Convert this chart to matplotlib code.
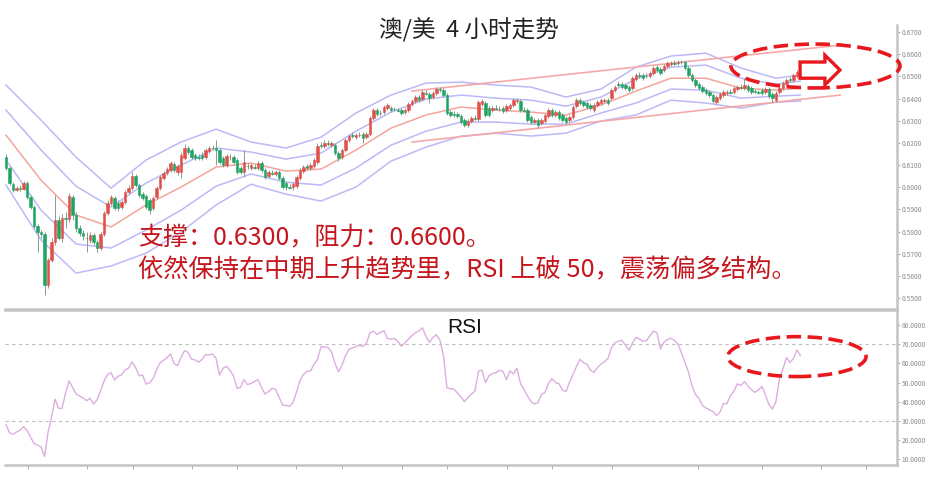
import numpy as np
import matplotlib.pyplot as plt
import matplotlib.patches as mpatches
from matplotlib.ticker import FormatStrFormatter

plt.rcParams['font.family'] = ['Noto Sans CJK SC', 'DejaVu Sans']

# AUD/USD 4h candles
opens = [
    .6136, .6087, .6014, .5987, .5996, .5992, .6019, .5956, .5911, .5825,
    .5798, .5789, .5559, .5672, .5753, .5852, .5771, .5861, .5857, .5956,
    .5875, .5816, .5794, .5773, .5762, .5785, .5753, .5726, .5789, .5884,
    .5929, .5951, .5929, .5911, .5933, .5978, .5996, .6051, .6010, .5969,
    .5960, .5942, .5906, .5956, .5996, .6041, .6064, .6078, .6105, .6069,
    .6069, .6132, .6177, .6168, .6145, .6136, .6145, .6136, .6163, .6177,
    .6177, .6168, .6132, .6100, .6136, .6136, .6123, .6087, .6069, .6096,
    .6087, .6091, .6087, .6109, .6078, .6051, .6064, .6060, .6069, .6041,
    .6019, .6001, .6001, .6005, .6041, .6073, .6096, .6087, .6096, .6114,
    .6190, .6186, .6199, .6190, .6190, .6154, .6136, .6168, .6213, .6235,
    .6226, .6235, .6240, .6226, .6240, .6312, .6348, .6335, .6339, .6357,
    .6357, .6353, .6348, .6348, .6339, .6348, .6375, .6389, .6407, .6398,
    .6425, .6420, .6407, .6425, .6443, .6438, .6416, .6339, .6330, .6330,
    .6321, .6303, .6281, .6299, .6312, .6308, .6375, .6380, .6357, .6348,
    .6357, .6353, .6357, .6348, .6357, .6371, .6389, .6389, .6348, .6348,
    .6317, .6294, .6303, .6290, .6299, .6321, .6348, .6326, .6339, .6326,
    .6312, .6303, .6317, .6366, .6393, .6384, .6380, .6371, .6348, .6371,
    .6380, .6389, .6393, .6402, .6438, .6465, .6465, .6461, .6452, .6447,
    .6488, .6506, .6506, .6502, .6502, .6515, .6542, .6533, .6529, .6547,
    .6556, .6560, .6560, .6565, .6565, .6538, .6506, .6483, .6465, .6452,
    .6438, .6429, .6416, .6384, .6402, .6416, .6425, .6429, .6429, .6443,
    .6452, .6447, .6456, .6447, .6434, .6429, .6438, .6429, .6443, .6420,
    .6393, .6429, .6447, .6465, .6488, .6483, .6502, .6538,
]
closes = [
    .6087, .6019, .5987, .5996, .5992, .6019, .5956, .5911, .5825, .5798,
    .5789, .5559, .5672, .5753, .5852, .5771, .5861, .5857, .5960, .5875,
    .5816, .5794, .5780, .5771, .5785, .5753, .5726, .5789, .5884, .5929,
    .5956, .5906, .5906, .5933, .5978, .5996, .6051, .6010, .5965, .5951,
    .5911, .5897, .5951, .5996, .6046, .6064, .6082, .6109, .6078, .6096,
    .6145, .6177, .6159, .6136, .6132, .6134, .6132, .6168, .6177, .6175,
    .6168, .6114, .6100, .6141, .6138, .6114, .6069, .6069, .6114, .6094,
    .6100, .6089, .6109, .6078, .6046, .6069, .6062, .6069, .6041, .6001,
    .6001, .5999, .6014, .6046, .6078, .6091, .6087, .6100, .6123, .6186,
    .6188, .6199, .6197, .6199, .6154, .6132, .6168, .6213, .6231, .6233,
    .6235, .6237, .6222, .6240, .6312, .6348, .6330, .6333, .6362, .6371,
    .6348, .6351, .6346, .6335, .6348, .6375, .6389, .6407, .6393, .6429,
    .6423, .6402, .6425, .6443, .6438, .6416, .6335, .6326, .6328, .6321,
    .6294, .6281, .6299, .6312, .6310, .6384, .6389, .6326, .6326, .6357,
    .6355, .6351, .6344, .6366, .6371, .6393, .6393, .6348, .6346, .6303,
    .6294, .6303, .6281, .6303, .6326, .6348, .6326, .6339, .6312, .6303,
    .6294, .6317, .6362, .6393, .6380, .6371, .6362, .6357, .6371, .6384,
    .6393, .6393, .6380, .6438, .6452, .6463, .6452, .6447, .6438, .6492,
    .6506, .6504, .6492, .6500, .6515, .6538, .6529, .6515, .6547, .6560,
    .6560, .6558, .6565, .6563, .6538, .6506, .6483, .6461, .6447, .6434,
    .6425, .6416, .6389, .6407, .6420, .6429, .6429, .6427, .6447, .6452,
    .6450, .6461, .6438, .6429, .6432, .6427, .6425, .6443, .6411, .6402,
    .6425, .6447, .6470, .6483, .6483, .6506, .6520, .6515,
]
highs = [
    .6150, .6096, .6023, .6005, .6010, .6028, .6028, .5965, .5920, .5834,
    .5807, .5798, .5681, .5771, .5965, .5870, .5879, .5888, .5974, .5965,
    .5888, .5830, .5807, .5798, .5798, .5794, .5762, .5798, .5893, .5942,
    .5965, .5960, .5942, .5942, .5987, .6010, .6069, .6060, .6019, .5978,
    .5969, .5951, .5960, .6005, .6055, .6073, .6091, .6118, .6114, .6105,
    .6159, .6195, .6186, .6177, .6154, .6150, .6159, .6177, .6186, .6190,
    .6213, .6177, .6141, .6150, .6150, .6145, .6132, .6096, .6168, .6109,
    .6109, .6105, .6118, .6118, .6087, .6078, .6078, .6078, .6078, .6051,
    .6028, .6014, .6023, .6055, .6087, .6100, .6105, .6109, .6132, .6199,
    .6204, .6213, .6213, .6208, .6199, .6163, .6177, .6222, .6240, .6249,
    .6244, .6249, .6249, .6249, .6321, .6357, .6357, .6348, .6371, .6380,
    .6366, .6362, .6357, .6357, .6357, .6384, .6398, .6416, .6416, .6438,
    .6438, .6429, .6434, .6452, .6452, .6447, .6425, .6348, .6344, .6339,
    .6330, .6312, .6308, .6321, .6326, .6393, .6398, .6389, .6366, .6366,
    .6371, .6366, .6366, .6375, .6380, .6402, .6402, .6398, .6362, .6357,
    .6326, .6312, .6312, .6312, .6335, .6357, .6357, .6348, .6348, .6335,
    .6321, .6326, .6371, .6402, .6402, .6393, .6389, .6380, .6380, .6393,
    .6402, .6402, .6402, .6447, .6461, .6479, .6474, .6470, .6461, .6502,
    .6515, .6520, .6515, .6515, .6524, .6547, .6551, .6542, .6556, .6569,
    .6569, .6574, .6574, .6574, .6574, .6547, .6515, .6492, .6474, .6461,
    .6447, .6438, .6425, .6416, .6429, .6438, .6438, .6443, .6456, .6461,
    .6465, .6492, .6465, .6456, .6443, .6438, .6447, .6452, .6452, .6429,
    .6434, .6456, .6479, .6492, .6497, .6515, .6529, .6547,
]
lows = [
    .6078, .6010, .5978, .5983, .5983, .5987, .5947, .5902, .5816, .5708,
    .5771, .5514, .5545, .5663, .5739, .5762, .5753, .5816, .5843, .5852,
    .5798, .5780, .5762, .5708, .5749, .5739, .5708, .5717, .5780, .5875,
    .5920, .5897, .5893, .5902, .5924, .5969, .5987, .6001, .5956, .5942,
    .5902, .5879, .5897, .5947, .5987, .6032, .6055, .6069, .6069, .6055,
    .6041, .6123, .6150, .6127, .6123, .6123, .6123, .6127, .6154, .6168,
    .6100, .6105, .6091, .6091, .6123, .6105, .6060, .6060, .6046, .6082,
    .6078, .6082, .6078, .6069, .6037, .6041, .6055, .6051, .6032, .5992,
    .5987, .5992, .5987, .5996, .6032, .6064, .6078, .6078, .6087, .6105,
    .6177, .6177, .6186, .6181, .6145, .6118, .6127, .6159, .6204, .6222,
    .6217, .6226, .6199, .6217, .6231, .6303, .6321, .6321, .6330, .6348,
    .6339, .6344, .6339, .6326, .6330, .6339, .6366, .6380, .6384, .6389,
    .6416, .6380, .6398, .6416, .6429, .6407, .6326, .6317, .6317, .6312,
    .6285, .6272, .6272, .6290, .6303, .6299, .6366, .6317, .6317, .6339,
    .6348, .6344, .6335, .6339, .6348, .6362, .6380, .6339, .6339, .6294,
    .6285, .6285, .6267, .6281, .6290, .6312, .6317, .6317, .6303, .6294,
    .6285, .6294, .6308, .6357, .6371, .6362, .6353, .6348, .6339, .6362,
    .6371, .6380, .6371, .6393, .6429, .6452, .6443, .6438, .6429, .6438,
    .6479, .6492, .6483, .6492, .6492, .6506, .6520, .6506, .6520, .6538,
    .6547, .6551, .6551, .6556, .6529, .6497, .6474, .6452, .6438, .6425,
    .6416, .6407, .6380, .6375, .6393, .6407, .6416, .6420, .6420, .6434,
    .6443, .6438, .6429, .6420, .6425, .6420, .6416, .6420, .6402, .6384,
    .6384, .6420, .6438, .6456, .6474, .6474, .6492, .6506,
]

# bollinger bands, sampled every 10 bars
band_idx = [0, 10, 20, 30, 40, 50, 60, 70, 80, 90, 100, 110,
            120, 130, 140, 150, 160, 170, 180, 190, 200, 210, 220, 227]
bb_up2 = [.6461, .6303, .6136, .5996, .6123, .6204, .6262, .6204, .6177, .6226, .6335, .6416,
          .6470, .6474, .6461, .6452, .6407, .6443, .6542, .6592, .6605, .6538, .6492, .6506]
bb_up1 = [.6348, .6168, .6005, .5911, .6019, .6100, .6177, .6159, .6127, .6154, .6253, .6339,
          .6398, .6416, .6402, .6393, .6366, .6407, .6488, .6542, .6551, .6492, .6465, .6479]
bb_mid = [.6235, .6032, .5875, .5821, .5920, .6001, .6091, .6109, .6073, .6082, .6168, .6267,
          .6326, .6362, .6348, .6339, .6326, .6371, .6434, .6492, .6492, .6447, .6438, .6447]
bb_lo1 = [.6123, .5897, .5744, .5726, .5807, .5897, .6005, .6060, .6023, .6010, .6087, .6190,
          .6253, .6294, .6294, .6285, .6285, .6335, .6380, .6443, .6438, .6402, .6411, .6416]
bb_lo2 = [.6010, .5762, .5613, .5645, .5703, .5798, .5920, .6014, .5969, .5938, .6001, .6118,
          .6181, .6231, .6244, .6231, .6244, .6299, .6326, .6393, .6380, .6357, .6384, .6389]

# rising channel (bar index, price)
chan_x = [116, 238.3]
chan_top = [.6434, .6641]
chan_bot = [.6204, .6416]

rsi = [
    28.0, 23.8, 23.0, 24.2, 25.1, 27.0, 25.0, 21.5, 18.2, 17.3,
    16.5, 11.4, 24.0, 32.0, 41.3, 36.6, 36.5, 44.5, 50.8, 47.5,
    44.0, 43.0, 42.0, 40.5, 41.8, 38.8, 41.0, 45.5, 50.8, 54.2,
    55.2, 51.3, 53.3, 53.9, 56.6, 57.4, 60.8, 58.0, 53.5, 53.9,
    49.2, 49.8, 52.0, 56.6, 60.2, 61.6, 63.0, 64.9, 59.8, 58.8,
    63.0, 66.6, 65.8, 62.2, 61.8, 60.6, 62.0, 64.6, 64.4, 64.9,
    62.6, 53.9, 57.4, 58.4, 56.4, 53.5, 47.0, 47.5, 51.5, 48.9,
    49.5, 50.5, 51.5, 47.5, 44.0, 45.3, 47.0, 46.5, 42.5, 38.3,
    38.0, 37.6, 39.5, 45.0, 51.0, 54.2, 55.8, 56.0, 59.5, 62.0,
    68.7, 68.6, 68.2, 66.0, 60.0, 55.6, 59.0, 64.0, 67.4, 68.0,
    68.8, 69.4, 68.8, 70.5, 76.0, 76.8, 75.0, 76.2, 77.0, 72.9,
    72.6, 73.0, 71.4, 68.9, 70.8, 72.6, 74.5, 76.0, 76.9, 78.5,
    74.0, 70.8, 73.6, 74.8, 72.0, 64.0, 47.2, 46.8, 46.5, 44.6,
    42.5, 40.0, 42.3, 44.0, 45.5, 56.0, 56.3, 50.0, 53.5, 54.7,
    55.1, 56.4, 55.8, 51.5, 56.0, 54.5, 57.5, 49.5, 46.5, 43.0,
    40.0, 38.8, 39.5, 43.8, 44.8, 49.5, 52.0, 50.0, 49.4, 46.0,
    45.3, 50.0, 54.3, 58.2, 62.1, 60.3, 59.5, 56.4, 55.3, 57.8,
    59.6, 60.8, 62.5, 68.0, 70.8, 71.5, 72.0, 69.5, 66.8, 70.5,
    73.5, 72.7, 71.4, 71.8, 74.3, 76.8, 76.0, 67.5, 71.0, 72.4,
    73.1, 72.0, 70.0, 65.5, 60.5, 55.5, 48.5, 43.8, 41.8, 38.0,
    36.7, 35.8, 34.9, 32.8, 34.5, 39.0, 39.0, 43.2, 45.5, 49.3,
    48.5, 50.5, 48.2, 46.2, 44.9, 46.0, 48.0, 43.5, 38.5, 36.2,
    40.0, 52.0, 57.0, 63.0, 60.5, 62.5, 67.0, 64.0,
]

# session separators on the RSI panel (bar index)
session_ticks = [6.3, 23.1, 36.3, 53.1, 66.0, 82.9, 96.0, 113.1, 126.0,
                 143.1, 156.0, 173.1, 197.7, 216.0, 232.9, 245.7]

RED = '#e2504a'
GREEN = '#1fa463'
WICK = '#8a9a92'
BAND = '#bbb9f6'
MA = '#f5a59c'
CHAN = '#f6a8a8'
MARK = '#e8191e'
GRAY = '#c4c4c4'

fig = plt.figure(figsize=(9.36, 4.8), dpi=100)
ax = fig.add_axes([5/936, 1-309/480, 892/936, 284/480])
rax = fig.add_axes([5/936, 1-465/480, 892/936, 155/480])

o = np.array(opens); c = np.array(closes)
h = np.array(highs); l = np.array(lows)
idx = np.arange(len(c))

# bands + channel
for band, col in [(bb_up2, BAND), (bb_up1, BAND), (bb_mid, MA), (bb_lo1, BAND), (bb_lo2, BAND)]:
    ax.plot(band_idx, band, color=col, lw=1.1, zorder=1, solid_joinstyle='round')
ax.plot(chan_x, chan_top, color=CHAN, lw=1.2, zorder=2)
ax.plot(chan_x, chan_bot, color=CHAN, lw=1.2, zorder=2)

# candles
cols = np.where(c >= o, RED, GREEN)
ax.vlines(idx, l, h, color=WICK, lw=0.7, zorder=3)
ax.bar(idx, np.abs(c - o), bottom=np.minimum(o, c), width=0.62,
       color=cols, edgecolor=cols, linewidth=0.4, zorder=4)

ax.set_xlim(-0.3, 254.6)
ax.set_ylim(0.5451, 0.6732)
ax.set_xticks([])
ax.yaxis.tick_right()
ax.set_yticks(np.arange(0.55, 0.6701, 0.01))
ax.yaxis.set_major_formatter(FormatStrFormatter('%.4f'))
ax.tick_params(axis='y', length=2, width=0.6, colors='#a0a0a0',
               labelsize=4.8, pad=1.5, labelcolor='#8a8a8a')
for s in ['left', 'top']:
    ax.spines[s].set_visible(False)
ax.spines['right'].set_color(GRAY)
ax.spines['right'].set_linewidth(1.8)
ax.spines['bottom'].set_color(GRAY)
ax.spines['bottom'].set_linewidth(1.8)

# highlight ellipse + arrow
ax.add_patch(mpatches.Ellipse((231.3, 0.6547), 48.3, 0.0198, fill=False,
                              edgecolor=MARK, lw=2.6, ls=(0, (4, 1.8)),
                              clip_on=False, zorder=6))
arrow = [(226.9, .6565), (234.0, .6565), (234.0, .6596), (238.3, .6529),
         (234.0, .6462), (234.0, .6492), (226.9, .6492)]
ax.add_patch(mpatches.Polygon(arrow, closed=True, facecolor='white',
                              edgecolor=MARK, lw=2.4, zorder=7, clip_on=False))

# RSI panel
rax.plot(idx, rsi, color='#dcaee0', lw=1.0)
rax.axhline(70, color='#bdbdbd', lw=0.8, ls=(0, (3, 3)))
rax.axhline(30, color='#bdbdbd', lw=0.8, ls=(0, (3, 3)))
rax.set_xlim(-0.3, 254.6)
rax.set_ylim(7.0, 87.8)
rax.set_xticks(session_ticks)
rax.set_xticklabels([])
rax.tick_params(axis='x', length=3, width=0.6, colors='#a0a0a0')
rax.yaxis.tick_right()
rax.set_yticks(np.arange(10, 81, 10))
rax.yaxis.set_major_formatter(FormatStrFormatter('%.4f'))
rax.tick_params(axis='y', length=2, width=0.6, colors='#a0a0a0',
                labelsize=4.8, pad=1.5, labelcolor='#8a8a8a')
rax.spines['left'].set_visible(False)
for s in ['top', 'bottom', 'right']:
    rax.spines[s].set_color(GRAY)
    rax.spines[s].set_linewidth(1.8)
rax.add_patch(mpatches.Ellipse((226.0, 63.5), 39.5, 20.8, fill=False,
                               edgecolor=MARK, lw=2.6, ls=(0, (4, 1.8)),
                               clip_on=False, zorder=6))

# texts
fig.text(0.501, 0.9375, '澳/美  4 小时走势', ha='center', va='center',
         fontsize=17, color='#222222')
fig.text(0.4968, 0.3167, 'RSI', ha='center', va='center', fontsize=15,
         family=['Liberation Sans', 'DejaVu Sans'], color='#111111')
fig.text(0.1474, 0.506, '支撑：0.6300，阻力：0.6600。', ha='left', va='center',
         fontsize=18, color='#c4161c')
fig.text(0.1474, 0.4375, '依然保持在中期上升趋势里，RSI 上破 50，震荡偏多结构。',
         ha='left', va='center', fontsize=18.2, color='#c4161c')

fig.savefig('out.png', dpi=100, facecolor='white')
